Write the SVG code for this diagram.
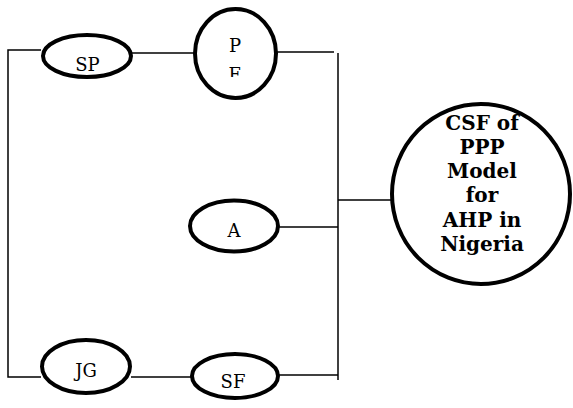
<svg xmlns="http://www.w3.org/2000/svg" width="573" height="408" viewBox="0 0 573 408">
  <style>
    .node { fill: #ffffff; stroke: #000000; stroke-width: 4; }
    .lbl { font-family: 'DejaVu Serif', 'Liberation Serif', serif; font-size: 18px; fill: #000000; text-anchor: middle; }
    .big { font-family: 'DejaVu Serif', 'Liberation Serif', serif; font-size: 20px; font-weight: bold; fill: #000000; text-anchor: middle; }
    .wire { fill: none; stroke: #000000; stroke-width: 1.5; }
  </style>
  <defs>
    <clipPath id="pe-clip">
      <rect x="180" y="0" width="120" height="77"/>
    </clipPath>
  </defs>

  <!-- connectors -->
  <g id="connectors">
    <polyline class="wire" points="41,50 8,50 8,377 41,377"/>
    <line class="wire" x1="132" y1="53" x2="194" y2="53"/>
    <line class="wire" x1="277" y1="52" x2="334" y2="52"/>
    <line class="wire" x1="338" y1="53" x2="338" y2="380"/>
    <line class="wire" x1="279" y1="227" x2="338" y2="227"/>
    <line class="wire" x1="338" y1="200" x2="391" y2="200"/>
    <line class="wire" x1="131" y1="377" x2="191" y2="377"/>
    <line class="wire" x1="279" y1="375" x2="338" y2="375"/>
  </g>

  <!-- nodes -->
  <g id="node-sp">
    <ellipse class="node" cx="87" cy="56" rx="44" ry="21"/>
    <text class="lbl" x="87.5" y="71">SP</text>
  </g>
  <g id="node-pe">
    <ellipse class="node" cx="235.5" cy="53.5" rx="40.5" ry="44.5"/>
    <text class="lbl" x="235" y="52">P</text>
    <text class="lbl" x="235" y="81" clip-path="url(#pe-clip)">E</text>
  </g>
  <g id="node-a">
    <ellipse class="node" cx="234" cy="226" rx="44" ry="25.5"/>
    <text class="lbl" x="234" y="237">A</text>
  </g>
  <g id="node-jg">
    <ellipse class="node" cx="86" cy="366.5" rx="44" ry="26.5"/>
    <text class="lbl" x="86" y="377">JG</text>
  </g>
  <g id="node-sf">
    <ellipse class="node" cx="235" cy="376" rx="43" ry="22"/>
    <text class="lbl" x="233" y="388">SF</text>
  </g>
  <g id="node-csf">
    <ellipse class="node" cx="481" cy="194" rx="89" ry="90"/>
    <text class="big" x="482" y="130">CSF of</text>
    <text class="big" x="482" y="154">PPP</text>
    <text class="big" x="482" y="178">Model</text>
    <text class="big" x="482" y="202">for</text>
    <text class="big" x="482" y="227">AHP in</text>
    <text class="big" x="482" y="251">Nigeria</text>
  </g>
</svg>
